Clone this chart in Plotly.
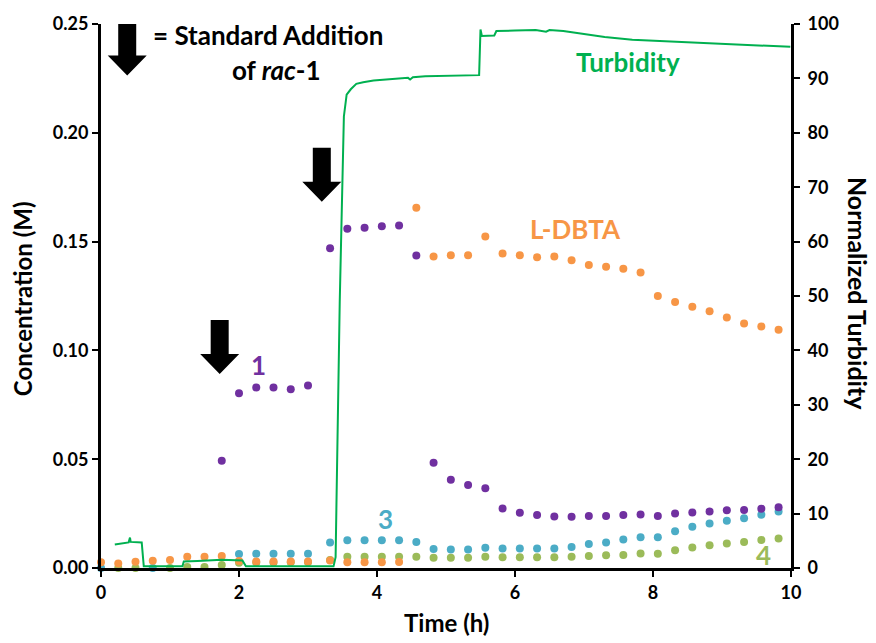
import plotly.graph_objects as go

# Sampling times (h)
time_h = [0, 0.25, 0.5, 0.75, 1.0, 1.25, 1.5, 1.75, 2.0, 2.25, 2.5, 2.75, 3.0,
          3.32, 3.57, 3.82, 4.07, 4.32, 4.57, 4.82, 5.07, 5.32, 5.57, 5.82,
          6.07, 6.32, 6.57, 6.82, 7.07, 7.32, 7.57, 7.82, 8.07, 8.32, 8.57,
          8.82, 9.07, 9.32, 9.57, 9.82]

# Concentrations (M)
conc_1 = [None, None, None, None, None, None, None, 0.0493, 0.0803, 0.0830,
          0.0830, 0.0822, 0.0839, 0.1469, 0.1559, 0.1564, 0.1570, 0.1574,
          0.1436, 0.0484, 0.0405, 0.0382, 0.0366, 0.0274, 0.0254, 0.0243,
          0.0237, 0.0236, 0.0239, 0.0239, 0.0243, 0.0246, 0.0239, 0.0251,
          0.0255, 0.0260, 0.0265, 0.0266, 0.0272, 0.0279]
conc_dbta = [0.0026, 0.0021, 0.0029, 0.0033, 0.0037, 0.0052, 0.0052, 0.0055,
             0.0032, 0.0030, 0.0030, 0.0030, 0.0030, 0.0035, 0.0026, 0.0026,
             0.0026, 0.0027, 0.1655, 0.1432, 0.1437, 0.1437, 0.1524, 0.1445,
             0.1437, 0.1428, 0.1431, 0.1414, 0.1393, 0.1384, 0.1375, 0.1358,
             0.1250, 0.1223, 0.1201, 0.1180, 0.1151, 0.1124, 0.1110, 0.1095]
conc_3 = [0.0, None, None, 0.0, None, None, None, None, 0.0064, 0.0066,
          0.0066, 0.0066, 0.0066, 0.0117, 0.0128, 0.0128, 0.0128, 0.0128,
          0.0120, 0.0087, 0.0085, 0.0085, 0.0093, 0.0090, 0.0090, 0.0090,
          0.0090, 0.0097, 0.0110, 0.0117, 0.0131, 0.0141, 0.0141, 0.0169,
          0.0190, 0.0205, 0.0217, 0.0229, 0.0245, 0.0260]
conc_4 = [None, 0.0, 0.0, None, 0.0, 0.0005, 0.0005, 0.0014, 0.0024, 0.0025,
          0.0025, 0.0026, 0.0026, 0.0037, 0.0052, 0.0052, 0.0052, 0.0052,
          0.0052, 0.0047, 0.0047, 0.0047, 0.0052, 0.0049, 0.0049, 0.0049,
          0.0049, 0.0052, 0.0055, 0.0059, 0.0060, 0.0067, 0.0066, 0.0082,
          0.0094, 0.0105, 0.0113, 0.0119, 0.0129, 0.0135]

# Turbidity probe trace (normalized, 0-100)
turb_time = [0.20, 0.30, 0.40, 0.42, 0.43, 0.59, 0.62, 1.18, 1.20, 1.40, 1.70,
             1.75, 2.05, 2.10, 3.37, 3.40, 3.46, 3.52, 3.56, 3.62, 3.70, 3.80,
             3.95, 4.20, 4.45, 4.48, 4.52, 4.70, 5.00, 5.20, 5.48, 5.50, 5.52,
             5.70, 5.73, 6.00, 6.30, 6.45, 6.50, 6.70, 7.00, 7.30, 7.70, 8.20,
             8.70, 9.20, 9.99]
turb_value = [4.3, 4.5, 4.7, 5.6, 4.8, 4.7, 0.3, 0.3, 1.2, 1.3, 1.4,
              1.5, 1.4, 0.3, 0.3, 2.0, 49.0, 83.0, 87.0, 88.0, 89.0, 89.3,
              89.6, 89.9, 90.1, 89.8, 90.2, 90.4, 90.5, 90.6, 90.6, 99.0, 97.8,
              97.9, 98.7, 98.8, 98.9, 98.6, 98.9, 98.7, 98.2, 97.6, 97.1, 96.8,
              96.6, 96.3, 95.8]

# Standard additions of rac-1: time (h) and arrow-tip height (M)
addition_time = [0.38, 1.72, 3.20]
addition_tip = [0.2263, 0.0891, 0.1683]

x_ticks = [0, 2, 4, 6, 8, 10]
y_ticks = [0.00, 0.05, 0.10, 0.15, 0.20, 0.25]
y2_ticks = [0, 10, 20, 30, 40, 50, 60, 70, 80, 90, 100]

PURPLE = "#7030A0"
ORANGE = "#F79646"
BLUE = "#4BACC6"
LIME = "#9BBB59"
GREEN = "#00B050"
FONT = "Lato"

fig = go.Figure()

fig.add_trace(go.Scatter(x=turb_time, y=turb_value, mode="lines", yaxis="y2",
                         line=dict(color=GREEN, width=2), cliponaxis=False,
                         showlegend=False))

for ys, col in [(conc_3, BLUE), (conc_4, LIME), (conc_dbta, ORANGE), (conc_1, PURPLE)]:
    fig.add_trace(go.Scatter(x=time_h, y=ys, mode="markers",
                             marker=dict(color=col, size=8, line=dict(width=0)),
                             cliponaxis=False, showlegend=False))

# Block arrows marking each standard addition (tip anchored on the data point)
arrow_path = "M 0,0 L -19.5,20 L -9,20 L -9,54 L 9,54 L 9,20 L 19.5,20 Z"
for t, c in zip(addition_time, addition_tip):
    fig.add_shape(type="path", xref="x", yref="y", xsizemode="pixel",
                  ysizemode="pixel", xanchor=t, yanchor=c, path=arrow_path,
                  fillcolor="black", line=dict(width=0))

def label(text, x, y, color, size=26, yref="y", xanchor="center"):
    fig.add_annotation(x=x, y=y, xref="x", yref=yref, text="<b>%s</b>" % text,
                       showarrow=False, xanchor=xanchor, yanchor="middle",
                       font=dict(family=FONT, size=size, color=color))

label("= Standard Addition", 0.72, 0.2450, "black", size=26, xanchor="left")
label("of <i>rac</i>-1", 2.54, 0.2290, "black", size=26)
label("1", 2.28, 0.0935, PURPLE)
label("L-DBTA", 6.88, 0.1560, ORANGE)
label("3", 4.12, 0.0225, BLUE)
label("4", 9.60, 0.0058, LIME)
label("Turbidity", 7.64, 93.0, GREEN, yref="y2")

# Axis titles
def axis_title(text, x, y, angle, size):
    fig.add_annotation(x=x, y=y, xref="paper", yref="paper", showarrow=False,
                       xanchor="center", yanchor="middle", text="<b>%s</b>" % text,
                       textangle=angle, font=dict(family=FONT, size=size, color="black"))

axis_title("Concentration (M)", -0.1145, 0.496, -90, 24)
axis_title("Normalized Turbidity", 1.097, 0.504, 90, 25)
axis_title("Time (h)", 0.5, -0.101, 0, 24)

tickfont = dict(family=FONT, size=18, color="black", weight="bold")
axis_common = dict(showgrid=False, zeroline=False, showline=True, linecolor="black",
                   linewidth=3, ticks="outside", ticklen=6, tickwidth=2,
                   tickcolor="black", tickfont=tickfont)

fig.update_layout(
    width=876, height=643,
    margin=dict(l=101, r=85, t=20, b=75),
    paper_bgcolor="white", plot_bgcolor="white",
    xaxis=dict(range=[0, 10], tickvals=x_ticks, ticktext=[str(v) for v in x_ticks],
               **axis_common),
    yaxis=dict(range=[0, 0.25], tickvals=y_ticks, ticklabelstandoff=0,
               ticktext=["%.2f" % v for v in y_ticks], **axis_common),
    yaxis2=dict(range=[0, 100], tickvals=y2_ticks, ticklabelstandoff=4,
                ticktext=[str(v) for v in y2_ticks], overlaying="y", side="right",
                **axis_common),
)

fig.write_html("out.html")
